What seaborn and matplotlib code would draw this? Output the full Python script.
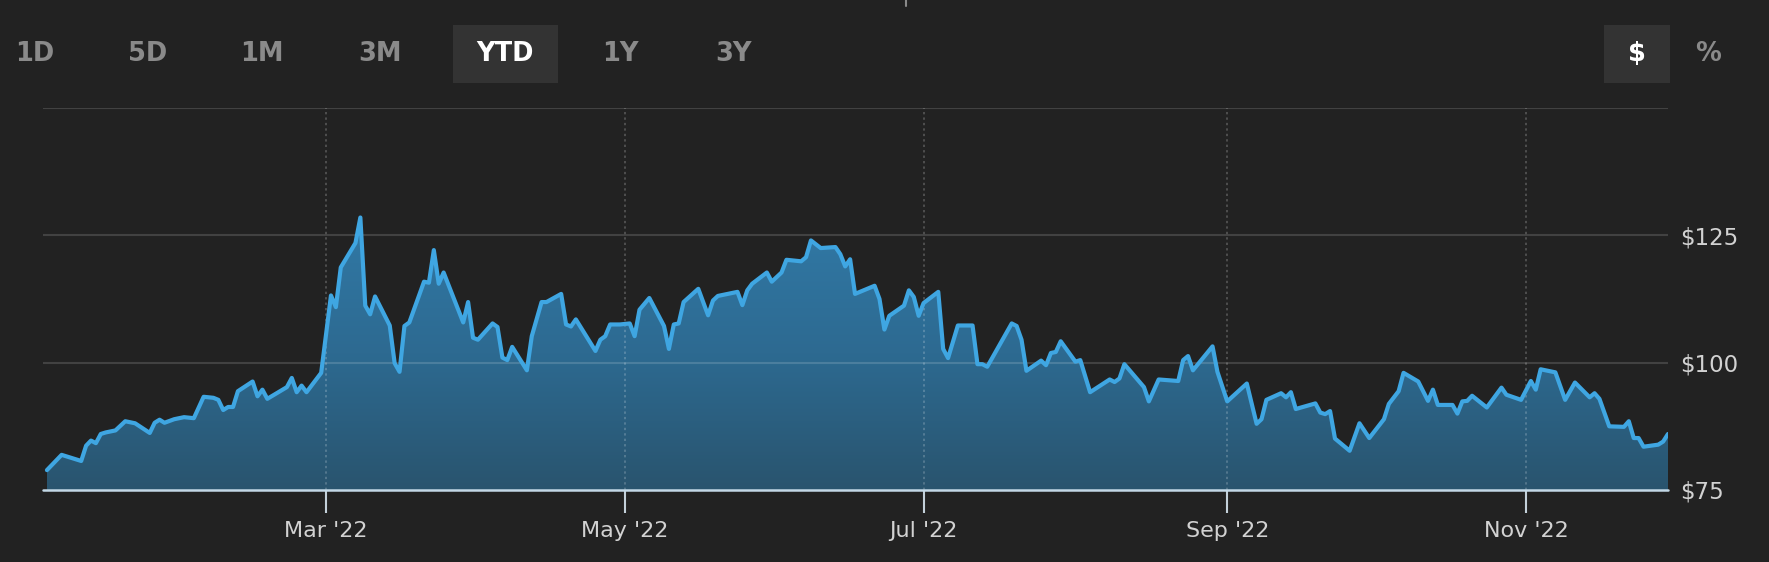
import numpy as np
import pandas as pd
import matplotlib
matplotlib.use("Agg")
import matplotlib.pyplot as plt
import matplotlib.dates as mdates
import seaborn as sns
from matplotlib.colors import LinearSegmentedColormap
from matplotlib.patches import Rectangle
from matplotlib.lines import Line2D

# ---------------- data ----------------
dates = [
    "2022-01-03", "2022-01-06", "2022-01-10", "2022-01-11", "2022-01-12", "2022-01-13",
    "2022-01-14", "2022-01-15", "2022-01-17", "2022-01-19", "2022-01-21", "2022-01-24",
    "2022-01-25", "2022-01-26", "2022-01-27", "2022-01-29", "2022-01-31", "2022-02-02",
    "2022-02-04", "2022-02-06", "2022-02-07", "2022-02-08", "2022-02-09", "2022-02-10",
    "2022-02-11", "2022-02-14", "2022-02-15", "2022-02-16", "2022-02-17", "2022-02-21",
    "2022-02-22", "2022-02-23", "2022-02-24", "2022-02-25", "2022-02-28", "2022-03-02",
    "2022-03-03", "2022-03-04", "2022-03-07", "2022-03-08", "2022-03-09", "2022-03-10",
    "2022-03-11", "2022-03-14", "2022-03-15", "2022-03-16", "2022-03-17", "2022-03-18",
    "2022-03-21", "2022-03-22", "2022-03-23", "2022-03-24", "2022-03-25", "2022-03-29",
    "2022-03-30", "2022-03-31", "2022-04-01", "2022-04-04", "2022-04-05", "2022-04-06",
    "2022-04-07", "2022-04-08", "2022-04-11", "2022-04-12", "2022-04-14", "2022-04-15",
    "2022-04-18", "2022-04-19", "2022-04-20", "2022-04-21", "2022-04-25", "2022-04-26",
    "2022-04-27", "2022-04-28", "2022-04-30", "2022-05-02", "2022-05-03", "2022-05-04",
    "2022-05-06", "2022-05-09", "2022-05-10", "2022-05-11", "2022-05-12", "2022-05-13",
    "2022-05-16", "2022-05-18", "2022-05-19", "2022-05-20", "2022-05-24", "2022-05-25",
    "2022-05-26", "2022-05-27", "2022-05-30", "2022-05-31", "2022-06-02", "2022-06-03",
    "2022-06-06", "2022-06-07", "2022-06-08", "2022-06-10", "2022-06-13", "2022-06-14",
    "2022-06-15", "2022-06-16", "2022-06-17", "2022-06-21", "2022-06-22", "2022-06-23",
    "2022-06-24", "2022-06-27", "2022-06-28", "2022-06-29", "2022-06-30", "2022-07-01",
    "2022-07-04", "2022-07-05", "2022-07-06", "2022-07-08", "2022-07-11", "2022-07-12",
    "2022-07-13", "2022-07-14", "2022-07-19", "2022-07-20", "2022-07-21", "2022-07-22",
    "2022-07-25", "2022-07-26", "2022-07-27", "2022-07-28", "2022-07-29", "2022-08-01",
    "2022-08-02", "2022-08-04", "2022-08-08", "2022-08-09", "2022-08-10", "2022-08-11",
    "2022-08-15", "2022-08-16", "2022-08-18", "2022-08-22", "2022-08-23", "2022-08-24",
    "2022-08-25", "2022-08-29", "2022-08-30", "2022-09-01", "2022-09-05", "2022-09-07",
    "2022-09-08", "2022-09-09", "2022-09-12", "2022-09-13", "2022-09-14", "2022-09-15",
    "2022-09-19", "2022-09-20", "2022-09-21", "2022-09-22", "2022-09-23", "2022-09-26",
    "2022-09-28", "2022-09-30", "2022-10-03", "2022-10-04", "2022-10-06", "2022-10-07",
    "2022-10-10", "2022-10-12", "2022-10-13", "2022-10-14", "2022-10-17", "2022-10-18",
    "2022-10-19", "2022-10-20", "2022-10-21", "2022-10-24", "2022-10-27", "2022-10-28",
    "2022-10-31", "2022-11-02", "2022-11-03", "2022-11-04", "2022-11-07", "2022-11-09",
    "2022-11-11", "2022-11-14", "2022-11-15", "2022-11-16", "2022-11-18", "2022-11-21",
    "2022-11-22", "2022-11-23", "2022-11-24", "2022-11-25", "2022-11-28", "2022-11-29",
    "2022-11-30",
]
prices = [
    78.9, 81.9, 80.7, 83.7, 84.7, 84.2,
    86.0, 86.3, 86.7, 88.5, 88.1, 86.2,
    88.2, 88.8, 88.2, 88.9, 89.3, 89.1,
    93.3, 93.1, 92.7, 90.7, 91.3, 91.3,
    94.4, 96.3, 93.4, 94.7, 92.9, 95.2,
    97.0, 94.2, 95.5, 94.2, 98.0, 113.2,
    110.9, 118.7, 123.5, 128.5, 111.2, 109.5,
    113.0, 107.3, 99.9, 98.2, 107.2, 107.9,
    115.9, 115.7, 122.1, 115.5, 117.7, 107.9,
    111.9, 104.9, 104.5, 107.7, 107.0, 101.0,
    100.5, 103.1, 98.5, 105.2, 111.9, 111.9,
    113.5, 107.5, 107.1, 108.5, 102.3, 104.5,
    105.2, 107.5, 107.5, 107.7, 105.2, 110.4,
    112.7, 107.2, 102.7, 107.5, 107.7, 111.9,
    114.5, 109.3, 112.2, 113.1, 113.9, 111.3,
    114.2, 115.5, 117.7, 115.9, 117.7, 120.2,
    119.9, 120.7, 124.0, 122.5, 122.7, 121.3,
    118.9, 120.3, 113.5, 115.1, 112.5, 106.5,
    109.2, 111.2, 114.2, 112.9, 109.2, 111.7,
    113.9, 102.7, 100.9, 107.3, 107.3, 99.7,
    99.7, 99.2, 107.7, 107.2, 104.5, 98.4,
    100.4, 99.5, 101.9, 102.1, 104.2, 100.2,
    100.5, 94.2, 96.7, 96.2, 96.9, 99.7,
    95.2, 92.4, 96.7, 96.4, 100.5, 101.3,
    98.5, 103.2, 98.2, 92.4, 95.9, 88.0,
    88.9, 92.7, 94.0, 93.2, 94.2, 90.9,
    92.0, 90.2, 89.9, 90.5, 85.1, 82.7,
    88.1, 85.2, 88.9, 91.9, 94.4, 98.0,
    96.3, 92.5, 94.7, 91.7, 91.7, 90.0,
    92.4, 92.5, 93.5, 91.2, 95.1, 93.7,
    92.7, 96.4, 94.7, 98.7, 98.1, 92.7,
    96.1, 93.2, 94.0, 92.9, 87.5, 87.4,
    88.5, 85.2, 85.2, 83.5, 83.9, 84.5,
    86.0,
]
y_tick_values = [75, 100, 125]
y_tick_labels = ["$75", "$100", "$125"]
y_grid_values = [100, 125, 150]
x_tick_dates = ["2022-03-01", "2022-05-01", "2022-07-01", "2022-09-01", "2022-11-01"]
x_tick_labels = ["Mar '22", "May '22", "Jul '22", "Sep '22", "Nov '22"]
range_buttons = ["1D", "5D", "1M", "3M", "YTD", "1Y", "3Y"]
active_range = "YTD"
unit_buttons = ["$", "%"]
active_unit = "$"

# ---------------- layout / style ----------------
W, H = 1769, 562
BG = "#222222"
LINE = "#3fa6e2"
range_btn_x = [35, 148, 262, 380, 505, 620, 733]
unit_btn_x = [1637, 1708]

sns.set_theme(style="dark")
plt.rcParams["font.family"] = ["DejaVu Sans"]

fig = plt.figure(figsize=(W / 100, H / 100), dpi=100, facecolor=BG)
ax = fig.add_axes([43 / W, 1 - 490 / H, (1668 - 43) / W, (490 - 108) / H])
ax.set_facecolor(BG)

df = pd.DataFrame({"date": pd.to_datetime(dates), "price": prices})
xnum = mdates.date2num(df["date"])

# line
sns.lineplot(data=df, x="date", y="price", ax=ax, color=LINE, linewidth=3.0,
             zorder=4, solid_joinstyle="round", solid_capstyle="round")

# gradient fill under line
fill = ax.fill_between(df["date"], df["price"], 75, facecolor="none", linewidth=0)
cmap = LinearSegmentedColormap.from_list("g", ["#29546e", "#2d6a91", "#3179a6"])
grad = np.linspace(0, 1, 256).reshape(-1, 1)
im = ax.imshow(grad, cmap=cmap, origin="lower", aspect="auto",
               extent=[xnum[0], xnum[-1], 75, max(prices)], zorder=1,
               interpolation="bicubic")
im.set_clip_path(fill.get_paths()[0], transform=ax.transData)

# gridlines
for yv in y_grid_values:
    ax.axhline(yv, color="white", alpha=0.15, lw=1.5, zorder=2)
xt = mdates.date2num(pd.to_datetime(x_tick_dates))
for xv in xt:
    ax.axvline(xv, color="white", alpha=0.2, lw=1.4, ls=(0, (1.2, 1.6)), zorder=2)
ax.axhline(75, color="#c3d8e6", lw=1.8, zorder=5, clip_on=False)

ax.set_xlim(mdates.date2num(pd.Timestamp("2022-01-03")) - 0.8,
            mdates.date2num(pd.Timestamp("2022-11-30")))
ax.set_ylim(75, 150)

for s in ax.spines.values():
    s.set_visible(False)
ax.grid(False)

ax.set_xticks(xt)
ax.set_xticklabels(x_tick_labels)
ax.tick_params(axis="x", bottom=True, length=16.5, width=1.5, color="#c3d0da",
               pad=6, labelsize=16, labelcolor="#d2d2d2", direction="out")
ax.yaxis.tick_right()
ax.set_yticks(y_tick_values)
ax.set_yticklabels(y_tick_labels)
ax.tick_params(axis="y", right=False, left=False, length=0, pad=9,
               labelsize=16.5, labelcolor="#d2d2d2")
ax.set_xlabel("")
ax.set_ylabel("")

# buttons
btn_y = 1 - 54 / H
for lbl, cx in zip(range_buttons, range_btn_x):
    active = lbl == active_range
    if active:
        fig.add_artist(Rectangle((453 / W, 1 - 83 / H), 105 / W, 58 / H,
                                 transform=fig.transFigure, facecolor="#333333",
                                 edgecolor="none", zorder=0))
    fig.text(cx / W, btn_y, lbl, ha="center", va="center", fontsize=18.5,
             fontweight="bold", color="white" if active else "#8a8a8a", zorder=2)

for lbl, cx in zip(unit_buttons, unit_btn_x):
    active = lbl == active_unit
    if active:
        fig.add_artist(Rectangle((1604 / W, 1 - 83 / H), 66 / W, 58 / H,
                                 transform=fig.transFigure, facecolor="#333333",
                                 edgecolor="none", zorder=0))
    fig.text(cx / W, btn_y, lbl, ha="center", va="center", fontsize=18.5,
             fontweight="bold", color="white" if active else "#8a8a8a", zorder=2)

fig.add_artist(Line2D([906 / W, 906 / W], [1, 1 - 6 / H], transform=fig.transFigure,
                      color="#8a8a8a", lw=1.5))

fig.savefig("out.png", dpi=100, facecolor=BG)
